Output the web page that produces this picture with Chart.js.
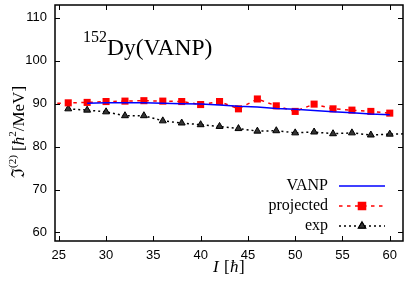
<!DOCTYPE html>
<html>
<head>
<meta charset="utf-8">
<script src="https://cdn.jsdelivr.net/npm/chart.js@4.4.1/dist/chart.umd.min.js"></script>
<style>
  html, body { margin: 0; padding: 0; background: #fff; }
  #wrap { width: 409px; height: 283px; position: relative; }
</style>
</head>
<body>
<div id="wrap"><canvas id="c"></canvas></div>
<script>
// valeurs
const vanpSpin = [28, 30, 32, 34, 36, 38, 40, 42, 44, 46, 48, 50, 52, 54, 56, 58, 60]
const vanpValues = [90.1, 90.2, 90.2, 90.2, 90.1, 90.0, 89.9, 89.7, 89.4, 89.2, 88.9, 88.7, 88.4, 88.1, 87.9, 87.6, 87.4]

const projSpin = [24, 26, 28, 30, 32, 34, 36, 38, 40, 42, 44, 46, 48, 50, 52, 54, 56, 58, 60]
const projValues = [90.0, 90.2, 90.3, 90.5, 90.6, 90.7, 90.6, 90.5, 89.8, 90.5, 88.8, 91.1, 89.5, 88.2, 89.9, 88.8, 88.5, 88.2, 87.8]

const expSpin = [26, 28, 30, 32, 34, 36, 38, 40, 42, 44, 46, 48, 50, 52, 54, 56, 58, 60, 62]
const expValues = [88.8, 88.5, 88.1, 87.2, 87.2, 86.0, 85.5, 85.1, 84.7, 84.2, 83.6, 83.7, 83.2, 83.4, 83.0, 83.2, 82.7, 82.9, 83.0]

const xTicks = [25, 30, 35, 40, 45, 50, 55, 60]
const yTicks = [60, 70, 80, 90, 100, 110]

const legendLabels = ["VANP", "projected", "exp"]

function toPoints(xs, ys) {
  return xs.map((x, i) => ({ x: x, y: ys[i] }))
}

const serif = '"Liberation Serif", "DejaVu Serif", serif'
const sans = '"Liberation Sans", Arial, sans-serif'

// cadre, petites graduations intérieures, titres et légende
const decorations = {
  id: "decorations",
  afterDatasetsDraw(chart) {
    const ctx = chart.ctx
    const a = chart.chartArea
    const xs = chart.scales.x
    const ys = chart.scales.y
    ctx.save()
    ctx.strokeStyle = "#000"
    ctx.lineWidth = 1
    ctx.setLineDash([])
    ctx.beginPath()
    xTicks.forEach((t) => {
      const px = Math.round(xs.getPixelForValue(t)) + 0.5
      ctx.moveTo(px, a.bottom); ctx.lineTo(px, a.bottom - 5)
      ctx.moveTo(px, a.top); ctx.lineTo(px, a.top + 5)
    })
    yTicks.forEach((t) => {
      const py = Math.round(ys.getPixelForValue(t)) + 0.5
      ctx.moveTo(a.left, py); ctx.lineTo(a.left + 5, py)
      ctx.moveTo(a.right, py); ctx.lineTo(a.right - 5, py)
    })
    ctx.stroke()
    ctx.lineWidth = 1.5
    ctx.strokeRect(a.left, a.top, a.right - a.left, a.bottom - a.top)

    // titre dans le graphique
    ctx.fillStyle = "#000"
    ctx.textBaseline = "alphabetic"
    ctx.textAlign = "left"
    ctx.font = "16px " + serif
    ctx.fillText("152", 83, 42)
    const w = ctx.measureText("152").width
    ctx.font = "23.5px " + serif
    ctx.fillText("Dy(VANP)", 83 + w, 55)

    // titre axe x
    ctx.font = "italic 17px " + serif
    ctx.fillText("I", 213, 272)
    ctx.font = "17px " + serif
    ctx.fillText("[", 224, 272)
    ctx.font = "italic 17px " + serif
    ctx.fillText("ħ", 230, 272)
    ctx.font = "17px " + serif
    ctx.fillText("]", 239, 272)

    // titre axe y
    ctx.save()
    ctx.translate(24, 124)
    ctx.rotate(-Math.PI / 2)
    ctx.textAlign = "left"
    let x = -54
    const part = (txt, font, dy) => {
      ctx.font = font + serif
      ctx.fillText(txt, x, dy)
      x += ctx.measureText(txt).width
    }
    part("ℑ", "18px ", 0)
    part("(2)", "11px ", -8)
    part(" [", "17px ", 0)
    part("ħ", "italic 17px ", 0)
    part("2", "11px ", -8)
    part("/MeV]", "17px ", 0)
    ctx.restore()

    // légende
    ctx.font = "16px " + serif
    ctx.textAlign = "right"
    ctx.textBaseline = "middle"
    chart.data.datasets.forEach((ds, i) => {
      const y = 186 + i * 20
      ctx.fillStyle = "#000"
      ctx.fillText(legendLabels[i], 328, y)
      ctx.strokeStyle = ds.borderColor
      ctx.lineWidth = ds.borderWidth
      ctx.setLineDash(ds.borderDash || [])
      ctx.beginPath()
      ctx.moveTo(339, y); ctx.lineTo(385, y)
      ctx.stroke()
      ctx.setLineDash([])
      if (ds.pointRadius > 0) {
        Chart.helpers.drawPoint(ctx, {
          pointStyle: ds.pointStyle,
          radius: ds.pointRadius,
          borderWidth: 1,
        }, 362, y)
        ctx.fillStyle = ds.pointBackgroundColor
        ctx.strokeStyle = ds.pointBorderColor
        ctx.lineWidth = ds.pointBorderWidth
        ctx.fill()
        if (ds.pointBorderWidth) ctx.stroke()
      }
    })
    ctx.restore()
  },
}

const ctx = document.getElementById("c").getContext("2d")
new Chart(ctx, {
  type: "line",
  data: {
    datasets: [
      {
        label: legendLabels[0],
        data: toPoints(vanpSpin, vanpValues),
        borderColor: "#0000ff",
        borderWidth: 1.5,
        pointRadius: 0,
        tension: 0,
        fill: false,
      },
      {
        label: legendLabels[1],
        data: toPoints(projSpin, projValues),
        borderColor: "#ff0000",
        borderWidth: 1.5,
        borderDash: [3.5, 4.5],
        pointStyle: "rect",
        pointRadius: 5,
        pointBackgroundColor: "#ff0000",
        pointBorderColor: "#ff0000",
        pointBorderWidth: 0,
        tension: 0,
        fill: false,
      },
      {
        label: legendLabels[2],
        data: toPoints(expSpin, expValues),
        borderColor: "#000000",
        borderWidth: 1.5,
        borderDash: [2, 3],
        pointStyle: "triangle",
        pointRadius: 4,
        pointBackgroundColor: "#333333",
        pointBorderColor: "#000000",
        pointBorderWidth: 1,
        tension: 0,
        fill: false,
      },
    ],
  },
  options: {
    responsive: true,
    maintainAspectRatio: false,
    animation: false,
    layout: { padding: { top: 4, right: 6, left: 0, bottom: 0 } },
    plugins: {
      legend: { display: false },
      tooltip: { enabled: false },
    },
    scales: {
      x: {
        type: "linear",
        min: 24.6,
        max: 61.4,
        afterBuildTicks: (scale) => { scale.ticks = xTicks.map((v) => ({ value: v })) },
        afterFit: (scale) => {
          scale.height = 42
          scale.paddingLeft = 0
          scale.paddingRight = 0
        },
        grid: { display: false, drawTicks: false },
        border: { display: false },
        ticks: { padding: 7, color: "#000", font: { family: sans, size: 13 } },
      },
      y: {
        type: "linear",
        min: 58,
        max: 113,
        afterBuildTicks: (scale) => { scale.ticks = yTicks.map((v) => ({ value: v })) },
        afterFit: (scale) => {
          scale.width = 55
          scale.paddingTop = 0
          scale.paddingBottom = 0
        },
        grid: { display: false, drawTicks: false },
        border: { display: false },
        ticks: { padding: 8, color: "#000", font: { family: sans, size: 13 } },
      },
    },
  },
  plugins: [decorations],
})
</script>
</body>
</html>
